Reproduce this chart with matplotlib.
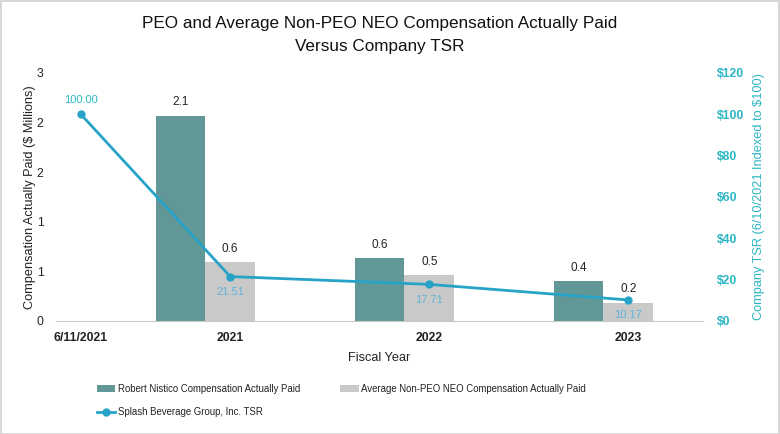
import matplotlib
matplotlib.use("Agg")
import matplotlib.pyplot as plt
from matplotlib.patches import Rectangle

plt.rcParams['font.family'] = ['Liberation Sans', 'DejaVu Sans']

# ---- data ----
bar_years = ["2021", "2022", "2023"]
peo_cap = [2.07, 0.63, 0.40]
peo_labels = ["2.1", "0.6", "0.4"]
neo_cap = [0.59, 0.46, 0.18]
neo_labels = ["0.6", "0.5", "0.2"]
tsr_dates = ["6/11/2021", "2021", "2022", "2023"]
tsr_values = [100.00, 21.51, 17.71, 10.17]
left_ticks = [0, 0.5, 1.0, 1.5, 2.0, 2.5]
left_tick_labels = ["0", "1", "1", "2", "2", "3"]
right_ticks = [0, 20, 40, 60, 80, 100, 120]
right_tick_labels = ["$0", "$20", "$40", "$60", "$80", "$100", "$120"]

# ---- layout ----
bar_pos = [1, 2, 3]
line_pos = [0.375, 1.125, 2.125, 3.125]
bw = 0.25

c_peo = "#619897"
c_neo = "#C9C9C9"
c_line = "#27A3C8"
c_right = "#2BB6C3"

fig = plt.figure(figsize=(7.8, 4.34), dpi=100)
fig.patches.append(Rectangle((0.001, 0.001), 0.998, 0.997, transform=fig.transFigure,
                             fill=False, edgecolor="#CFCFCF", linewidth=1.2))
ax = fig.add_axes([0.0718, 0.2604, 0.8295, 0.5714])
ax2 = ax.twinx()

b1 = ax.bar([p - bw / 2 for p in bar_pos], peo_cap, width=bw, color=c_peo,
            label="Robert Nistico Compensation Actually Paid")
b2 = ax.bar([p + bw / 2 for p in bar_pos], neo_cap, width=bw, color=c_neo,
            label="Average Non-PEO NEO Compensation Actually Paid")
for rect, lab in zip(b1, peo_labels):
    ax.annotate(lab, (rect.get_x() + rect.get_width() / 2, rect.get_height()),
                xytext=(0, 5.5), textcoords="offset points", ha="center", va="bottom",
                fontsize=8.5, color="#222222")
for rect, lab in zip(b2, neo_labels):
    ax.annotate(lab, (rect.get_x() + rect.get_width() / 2, rect.get_height()),
                xytext=(0, 5.5), textcoords="offset points", ha="center", va="bottom",
                fontsize=8.5, color="#222222")

ln, = ax2.plot(line_pos, tsr_values, color=c_line, lw=2.0, marker="o", ms=5,
               label="Splash Beverage Group, Inc. TSR")
for i, (x, v) in enumerate(zip(line_pos, tsr_values)):
    if i == 0:
        ax2.annotate(f"{v:.2f}", (x, v), xytext=(0, 7), textcoords="offset points",
                     ha="center", va="bottom", fontsize=8, color=c_right)
    else:
        ax2.annotate(f"{v:.2f}", (x, v), xytext=(0, -7.5), textcoords="offset points",
                     ha="center", va="top", fontsize=8, color="#5FB4DC")

ax.set_xlim(0.25, 3.5)
ax.set_ylim(0, 2.5)
ax2.set_ylim(0, 120)
ax.set_xticks(line_pos)
ax.set_xticklabels(tsr_dates, fontsize=8.8, fontweight="bold", color="#222222")
ax.set_yticks(left_ticks)
ax.set_yticklabels(left_tick_labels, fontsize=8.8, color="#222222")
ax2.set_yticks(right_ticks)
ax2.set_yticklabels([t.replace("$", r"\$") for t in right_tick_labels], fontsize=8.8,
                    color=c_right, fontweight="bold")
ax.tick_params(axis="both", length=0)
ax.tick_params(axis="x", pad=8)
ax.tick_params(axis="y", pad=9)
ax2.tick_params(axis="y", length=0, pad=10)
for a in (ax, ax2):
    for s in ("top", "left", "right"):
        a.spines[s].set_visible(False)
    a.spines["bottom"].set_color("#C8C8C8")
ax2.spines["bottom"].set_visible(False)

ax.set_ylabel("Compensation Actually Paid ($ Millions)".replace("$", r"\$"),
              fontsize=9.2, color="#222222", labelpad=0.5)
ax2.set_ylabel("Company TSR (6/10/2021 Indexed to $100)".replace("$", r"\$"),
               fontsize=9.2, color=c_right, labelpad=6.5)
ax.set_xlabel("Fiscal Year", fontsize=9.2, color="#222222", labelpad=6)

fig.text(0.487, 0.919, "PEO and Average Non-PEO NEO Compensation Actually Paid\nVersus Company TSR",
         ha="center", va="center", fontsize=12.3, color="#111111", linespacing=1.72)

leg = fig.legend([b1, ln, b2],
                 [b1.get_label(), ln.get_label(), b2.get_label()],
                 ncol=2, loc="upper left", bbox_to_anchor=(0.124, 0.115),
                 frameon=False, fontsize=6.9, handlelength=1.9, handletextpad=0.3,
                 columnspacing=4.2, labelspacing=1.35, borderaxespad=0, borderpad=0)
for t in leg.get_texts():
    t.set_color("#222222")

fig.savefig("out.png", dpi=100)
